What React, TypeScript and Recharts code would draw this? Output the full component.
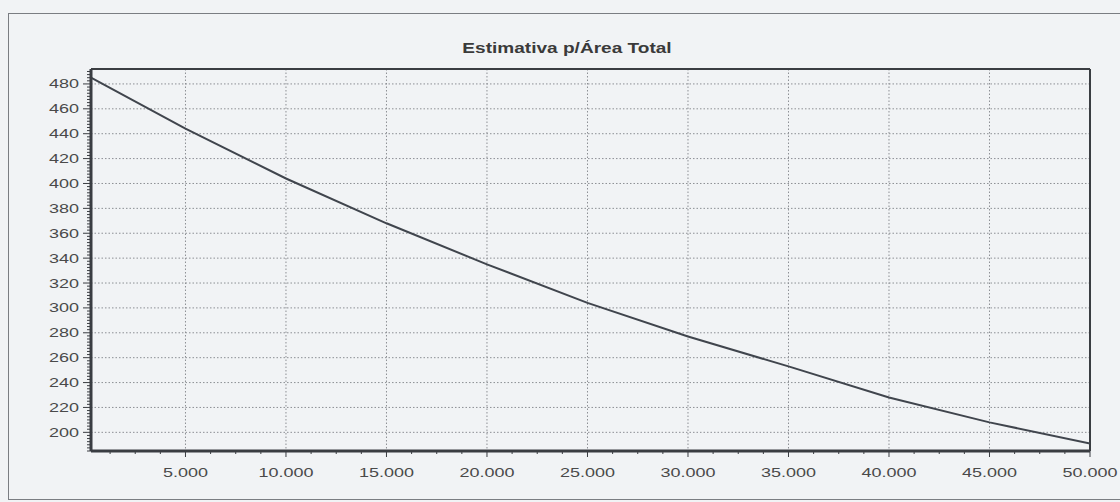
import React from 'react';
import { LineChart, Line, XAxis, YAxis, CartesianGrid, ReferenceLine } from 'recharts';

// area (x) vs. estimativa (y)
const areas = [300, 5000, 10000, 15000, 20000, 25000, 30000, 35000, 40000, 45000, 50000];
const estimativas = [485, 444, 404, 368, 335, 304, 277, 253, 228, 208, 191];

const X_MIN = 300;
const X_MAX = 50000;
const Y_MIN = 185;
const Y_MAX = 492;

const xMajorTicks = [5000, 10000, 15000, 20000, 25000, 30000, 35000, 40000, 45000, 50000];
const xMinorStep = 1250;
const yMajorTicks = [200, 220, 240, 260, 280, 300, 320, 340, 360, 380, 400, 420, 440, 460, 480];
const yMinorStep = 2.5;

const data = areas.map((a, i) => ({ area: a, valor: estimativas[i] }));

const range = (from: number, to: number, step: number) => {
  const out: number[] = [];
  for (let v = from; v <= to + 1e-9; v += step) out.push(Math.round(v * 100) / 100);
  return out;
};
const xTicks = range(Math.ceil(X_MIN / xMinorStep) * xMinorStep, X_MAX, xMinorStep);
const yTicks = range(Math.ceil(Y_MIN / yMinorStep) * yMinorStep, Y_MAX, yMinorStep);

const INK = '#3a3d42';
const FONT = '"Liberation Sans", Arial, sans-serif';

const fmtThousands = (v: number) => v.toLocaleString('de-DE');

const XTick = (props: any) => {
  const { x, y, payload } = props;
  const major = xMajorTicks.includes(payload.value);
  return (
    <g transform={`translate(${x},${y})`}>
      <line x1={0} x2={0} y1={0} y2={major ? 6 : 3} stroke={INK} strokeWidth={1} />
      {major && (
        <text
          transform="translate(0,26) scale(1.5,1)"
          textAnchor="middle"
          fontFamily={FONT}
          fontSize={12}
          fill="#4a4a4a"
        >
          {fmtThousands(payload.value)}
        </text>
      )}
    </g>
  );
};

const YTick = (props: any) => {
  const { x, y, payload } = props;
  const major = yMajorTicks.includes(payload.value);
  return (
    <g transform={`translate(${x},${y})`}>
      <line x1={major ? -8 : -4} x2={0} y1={0} y2={0} stroke={INK} strokeWidth={1} />
      {major && (
        <text
          transform="translate(-12,4.5) scale(1.5,1)"
          textAnchor="end"
          fontFamily={FONT}
          fontSize={12}
          fill="#4a4a4a"
        >
          {payload.value}
        </text>
      )}
    </g>
  );
};

export default function App() {
  return (
    <div style={{ position: 'relative', width: 1120, height: 502, background: '#f1f3f5', overflow: 'hidden' }}>
      <style>{`body{margin:0;background:#f1f3f5}`}</style>
      <div
        style={{
          position: 'absolute',
          left: 8,
          top: 13,
          width: 1130,
          height: 485,
          border: '1.5px solid #7a7d82',
        }}
      />
      <div
        style={{
          position: 'absolute',
          left: 567,
          top: 40,
          transform: 'translateX(-50%) scaleX(1.27)',
          fontFamily: FONT,
          fontWeight: 'bold',
          fontSize: 15,
          lineHeight: '15px',
          color: '#3a3a3a',
          whiteSpace: 'nowrap',
        }}
      >
        Estimativa p/Área Total
      </div>
      <div style={{ position: 'absolute', left: 0, top: 0 }}>
        <LineChart width={1120} height={502} data={data} margin={{ top: 69, right: 30, bottom: 0, left: 0 }}>
          <CartesianGrid
            stroke="#8c8f94"
            strokeDasharray="1.5 2"
            horizontalValues={yMajorTicks}
            verticalValues={xMajorTicks.filter((v) => v < X_MAX)}
          />
          <XAxis
            dataKey="area"
            type="number"
            domain={[X_MIN, X_MAX]}
            allowDataOverflow
            ticks={xTicks}
            interval={0}
            tick={<XTick />}
            tickLine={false}
            tickSize={0}
            tickMargin={0}
            height={51}
            axisLine={{ stroke: INK, strokeWidth: 3 }}
          />
          <YAxis
            type="number"
            domain={[Y_MIN, Y_MAX]}
            allowDataOverflow
            ticks={yTicks}
            interval={0}
            tick={<YTick />}
            tickLine={false}
            tickSize={0}
            tickMargin={0}
            width={91}
            axisLine={{ stroke: INK, strokeWidth: 3 }}
          />
          <ReferenceLine y={Y_MAX} stroke={INK} strokeWidth={2} />
          <ReferenceLine x={X_MAX} stroke={INK} strokeWidth={2} />
          <Line
            type="linear"
            dataKey="valor"
            stroke="#40454d"
            strokeWidth={2}
            dot={false}
            isAnimationActive={false}
          />
        </LineChart>
      </div>
    </div>
  );
}
